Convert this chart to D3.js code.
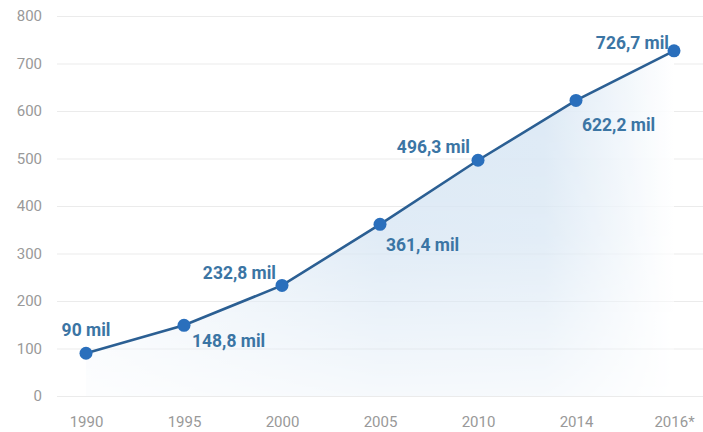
<!DOCTYPE html>
<html>
<head>
<script src="https://d3js.org/d3.v7.min.js"></script>
<style>
  body { margin: 0; background: #fff; }
  .tick text { font-family: Roboto, "DejaVu Sans", sans-serif; fill: #999; font-size: 15px; }
</style>
</head>
<body>
<script>
var years = ["1990", "1995", "2000", "2005", "2010", "2014", "2016*"];
var values = [90, 148.8, 232.8, 361.4, 496.3, 622.2, 726.7];
var labels = ["90 mil", "148,8 mil", "232,8 mil", "361,4 mil", "496,3 mil", "622,2 mil", "726,7 mil"];
var yTicks = [0, 100, 200, 300, 400, 500, 600, 700, 800];

var data = years.map(function(y, i) { return {year: y, value: values[i], label: labels[i]}; });

var w = 703, h = 432;

var x = d3.scalePoint().domain(years).range([86, 674]);
var y = d3.scaleLinear().domain([0, 800]).range([396, 16]);

var svg = d3.select("body").append("svg").attr("width", w).attr("height", h);

var defs = svg.append("defs");
var gh = defs.append("linearGradient").attr("id", "gh").attr("x1", "0").attr("x2", "1").attr("y1", "0").attr("y2", "0");
gh.append("stop").attr("offset", "0%").attr("stop-color", "#f3f7fb");
gh.append("stop").attr("offset", "50%").attr("stop-color", "#d6e5f3");
gh.append("stop").attr("offset", "78%").attr("stop-color", "#d9e7f4");
gh.append("stop").attr("offset", "100%").attr("stop-color", "#ffffff");
var gv = defs.append("linearGradient").attr("id", "gv").attr("x1", "0").attr("x2", "0").attr("y1", "0").attr("y2", "1");
gv.append("stop").attr("offset", "0%").attr("stop-color", "#fff").attr("stop-opacity", 1);
gv.append("stop").attr("offset", "55%").attr("stop-color", "#fff").attr("stop-opacity", 0.75);
gv.append("stop").attr("offset", "100%").attr("stop-color", "#fff").attr("stop-opacity", 0.1);
var mask = defs.append("mask").attr("id", "fade");
mask.append("rect").attr("x", 0).attr("y", 0).attr("width", w).attr("height", h).attr("fill", "url(#gv)");

// grid lines + y labels
var yAxis = d3.axisLeft(y).tickValues(yTicks).tickSize(-(w - 57)).tickPadding(15);
var gy = svg.append("g").attr("transform", "translate(57,0)").call(yAxis);
gy.select(".domain").remove();
gy.selectAll(".tick line").attr("stroke", "#ebebeb").attr("stroke-width", 1.2);

// area
var area = d3.area().x(function(d) { return x(d.year); }).y0(y(0)).y1(function(d) { return y(d.value); });
svg.append("path").datum(data).attr("d", area).attr("fill", "url(#gh)").attr("mask", "url(#fade)");

// x labels
var xAxis = d3.axisBottom(x).tickSize(0).tickPadding(20);
var gx = svg.append("g").attr("transform", "translate(0,396)").call(xAxis);
gx.select(".domain").remove();

// line
var line = d3.line().x(function(d) { return x(d.year); }).y(function(d) { return y(d.value); });
svg.append("path").datum(data).attr("d", line).attr("fill", "none").attr("stroke", "#2b5f93").attr("stroke-width", 2.6);

svg.selectAll("circle.pt").data(data).enter().append("circle")
  .attr("class", "pt")
  .attr("cx", function(d) { return x(d.year); })
  .attr("cy", function(d) { return y(d.value); })
  .attr("r", 6.5)
  .attr("fill", "#2a6fbc");

// where each value label sits relative to its point
var labelPlacement = [
  {anchor: "middle", dx: 0, dy: -17},
  {anchor: "start", dx: 8, dy: 22},
  {anchor: "end", dx: -6, dy: -6},
  {anchor: "start", dx: 6, dy: 27},
  {anchor: "end", dx: -8, dy: -7},
  {anchor: "start", dx: 6, dy: 31},
  {anchor: "end", dx: -5, dy: -2}
];

svg.selectAll("text.val").data(data).enter().append("text")
  .attr("class", "val")
  .attr("transform", function(d, i) {
    var p = labelPlacement[i];
    return "translate(" + (x(d.year) + p.dx) + "," + (y(d.value) + p.dy) + ") scale(0.92,1)";
  })
  .attr("text-anchor", function(d, i) { return labelPlacement[i].anchor; })
  .attr("font-family", "Roboto, 'DejaVu Sans', sans-serif")
  .attr("font-size", "19px")
  .attr("font-weight", "bold")
  .attr("fill", "#3b75a4")
  .text(function(d) { return d.label; });
</script>
</body>
</html>
